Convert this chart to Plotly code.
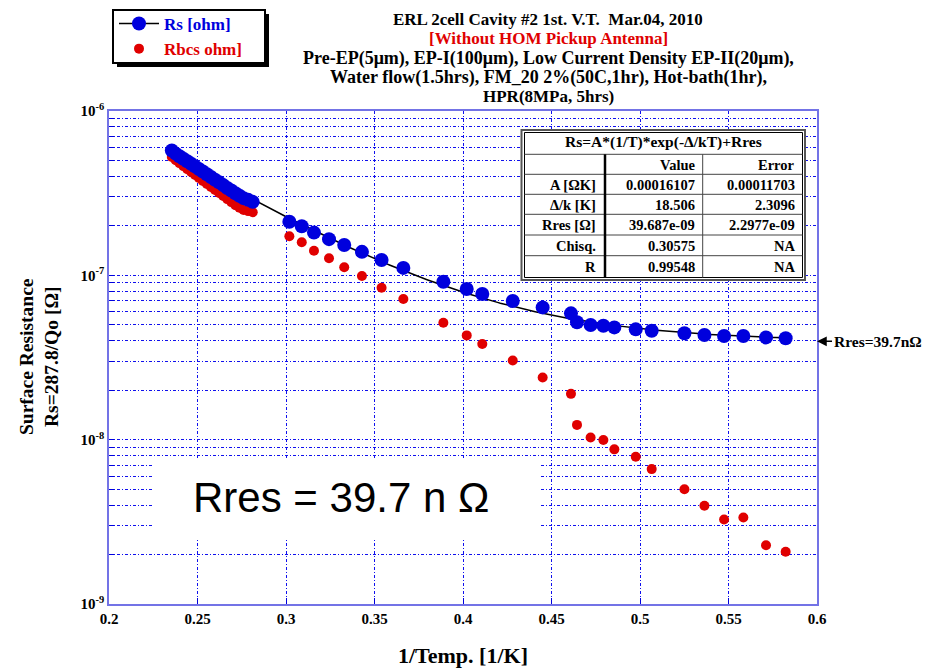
import numpy as np
import plotly.graph_objects as go

# ---------------- data ----------------
inv_T = [0.2355, 0.2377, 0.2398, 0.2420, 0.2442, 0.2464, 0.2486, 0.2508, 0.2530, 0.2553,
         0.2576, 0.2599, 0.2622, 0.2645, 0.2668, 0.2691, 0.2714, 0.2737, 0.2760, 0.2786,
         0.2812,
         0.3019, 0.3089, 0.3158, 0.3243, 0.3329, 0.3429, 0.3540, 0.3663, 0.3889, 0.4021,
         0.4109, 0.4281, 0.4450, 0.4610, 0.4644, 0.4721, 0.4793, 0.4855, 0.4976, 0.5066,
         0.5251, 0.5364, 0.5475, 0.5584, 0.5712, 0.5823]

rs_ohm = [5.75e-7, 5.50e-7, 5.30e-7, 5.12e-7, 4.95e-7, 4.78e-7, 4.60e-7, 4.44e-7, 4.28e-7, 4.12e-7,
          3.97e-7, 3.82e-7, 3.68e-7, 3.54e-7, 3.40e-7, 3.28e-7, 3.16e-7, 3.05e-7, 2.95e-7, 2.88e-7,
          2.80e-7,
          2.12e-7, 1.99e-7, 1.82e-7, 1.66e-7, 1.53e-7, 1.39e-7, 1.24e-7, 1.11e-7, 9.14e-8, 8.25e-8,
          7.70e-8, 6.98e-8, 6.38e-8, 5.87e-8, 5.18e-8, 4.99e-8, 4.93e-8, 4.82e-8, 4.69e-8, 4.60e-8,
          4.44e-8, 4.33e-8, 4.27e-8, 4.27e-8, 4.19e-8, 4.14e-8]

rbcs_ohm = [5.25e-7, 5.02e-7, 4.82e-7, 4.62e-7, 4.43e-7, 4.25e-7, 4.08e-7, 3.91e-7, 3.75e-7, 3.60e-7,
            3.45e-7, 3.31e-7, 3.17e-7, 3.04e-7, 2.91e-7, 2.79e-7, 2.67e-7, 2.58e-7, 2.50e-7, 2.46e-7,
            2.42e-7,
            1.73e-7, 1.59e-7, 1.41e-7, 1.27e-7, 1.12e-7, 9.9e-8, 8.41e-8, 7.18e-8, 5.15e-8, 4.31e-8,
            3.82e-8, 3.03e-8, 2.39e-8, 1.90e-8, 1.23e-8, 1.03e-8, 9.95e-9, 8.73e-9, 7.87e-9, 6.62e-9,
            4.99e-9, 3.96e-9, 3.27e-9, 3.36e-9, 2.28e-9, 2.08e-9]

# fit parameters (from the table in the chart)
fit_A = 0.00016107
fit_delta_k = 18.506
fit_Rres = 39.687e-09

table_labels = ["A [ΩK]", "Δ/k [K]", "Rres [Ω]", "Chisq.", "R"]
table_values = ["0.00016107", "18.506", "39.687e-09", "0.30575", "0.99548"]
table_errors = ["0.00011703", "2.3096", "2.2977e-09", "NA", "NA"]

x_ticks = [0.2, 0.25, 0.3, 0.35, 0.4, 0.45, 0.5, 0.55, 0.6]
y_decades = [-9, -8, -7, -6]

# ---------------- figure ----------------
L, R, T, B = 109, 817, 111, 604


def px(x):
    return (x - L) / (R - L)


def py(y):
    return (B - y) / (B - T)


BLUE = "#0000dd"
RED = "#e00000"
SERIF = "Liberation Serif"

fig = go.Figure()

# fit curve
xf = np.linspace(min(inv_T), max(inv_T), 300)
yf = fit_A * xf * np.exp(-fit_delta_k * xf) + fit_Rres
fig.add_trace(go.Scatter(x=xf, y=yf, mode="lines", line=dict(color="black", width=1.5),
                         showlegend=False, hoverinfo="skip"))

fig.add_trace(go.Scatter(x=inv_T, y=rbcs_ohm, mode="markers",
                         marker=dict(color=RED, size=10, line=dict(width=0)),
                         showlegend=False))
fig.add_trace(go.Scatter(x=inv_T, y=rs_ohm, mode="markers",
                         marker=dict(color=BLUE, size=14, line=dict(width=0)),
                         showlegend=False))

# legend-only entries
fig.add_trace(go.Scatter(x=[None], y=[None], mode="lines+markers",
                         line=dict(color="black", width=1.5),
                         marker=dict(color=BLUE, size=14),
                         name="<span style='color:%s'>Rs [ohm]</span>" % BLUE))
fig.add_trace(go.Scatter(x=[None], y=[None], mode="markers",
                         marker=dict(color=RED, size=10),
                         name="<span style='color:%s'>Rbcs ohm]</span>" % RED))

# y ticks: decades labelled, minor multiples gridded
y_tickvals, y_ticktext = [], []
for d in y_decades:
    for m in range(1, 10):
        if d == -6 and m > 1:
            break
        y_tickvals.append(m * 10.0 ** d)
        y_ticktext.append("10<sup>%d</sup>" % d if m == 1 else "")

grid_col = "#1010ee"
frame_col = "#7373e6"

fig.update_xaxes(range=[0.2, 0.6], tickvals=x_ticks, ticktext=[("%g" % v) for v in x_ticks],
                 showgrid=True, gridcolor=grid_col, griddash="3px,2px,1px,2px", gridwidth=1,
                 showline=True, linecolor=frame_col, linewidth=1.5, mirror=True,
                 ticks="inside", tickcolor=BLUE, ticklen=6, zeroline=False, automargin=False,
                 tickfont=dict(family=SERIF, size=15, color="black", weight="bold"))
fig.update_yaxes(type="log", range=[-9, -6], tickmode="array", tickvals=y_tickvals,
                 ticktext=y_ticktext,
                 showgrid=True, gridcolor=grid_col, griddash="3px,2px,1px,2px", gridwidth=1,
                 showline=True, linecolor=frame_col, linewidth=1.5, mirror=True,
                 ticks="inside", tickcolor=BLUE, ticklen=5, zeroline=False, automargin=False,
                 tickfont=dict(family=SERIF, size=15, color="black", weight="bold"))

shapes = []
annotations = []


def note(x, y, text, font, xanchor="center", yanchor="middle", height=None, angle=0):
    a = dict(xref="paper", yref="paper", x=px(x), y=py(y), text=text,
             showarrow=False, xanchor=xanchor, yanchor=yanchor, font=font, textangle=angle)
    if height is not None:
        a["height"] = height
    annotations.append(a)


# axis titles
note(463, 655, "1/Temp. [1/K]", dict(family=SERIF, size=22, color="black", weight="bold"))
note(39, 357, "Surface Resistance<br>Rs=287.8/Qo [Ω]",
     dict(family=SERIF, size=19.5, color="black", weight="bold"), angle=-90)

# white box behind the Rres text
shapes.append(dict(type="rect", xref="paper", yref="paper", x0=px(152), x1=px(541),
                   y0=py(540), y1=py(459), fillcolor="white", line=dict(width=0),
                   layer="above"))
note(341, 497, "Rres = 39.7 n Ω", dict(family="Liberation Sans", size=42, color="black"))

# fit table
shapes.append(dict(type="rect", xref="paper", yref="paper", x0=px(521.5), x1=px(805),
                   y0=py(280), y1=py(130), fillcolor="white",
                   line=dict(color="#555555", width=2), layer="above"))
shapes.append(dict(type="rect", xref="paper", yref="paper", x0=px(524.5), x1=px(802.5),
                   y0=py(277.5), y1=py(132.5), fillcolor="white",
                   line=dict(color="black", width=1), layer="above"))
row_lines = [154.3, 174.3, 194.3, 214.3, 235, 255.7]
for yl in row_lines:
    shapes.append(dict(type="line", xref="paper", yref="paper", x0=px(524.5), x1=px(802.5),
                       y0=py(yl), y1=py(yl), line=dict(color="#444444", width=1),
                       layer="above"))
shapes.append(dict(type="line", xref="paper", yref="paper", x0=px(605), x1=px(605),
                   y0=py(154.3), y1=py(277.5), line=dict(color="black", width=2.5),
                   layer="above"))
shapes.append(dict(type="line", xref="paper", yref="paper", x0=px(702.7), x1=px(702.7),
                   y0=py(154.3), y1=py(277.5), line=dict(color="#444444", width=1),
                   layer="above"))

tfont = dict(family=SERIF, size=14.5, color="black", weight="bold")
note(663, 142.5, "Rs=A*(1/T)*exp(-Δ/kT)+Rres", dict(family=SERIF, size=15.5, color="black",
                                                      weight="bold"))
note(697, 164.5, "Value", tfont, xanchor="right")
note(797, 164.5, "Error", tfont, xanchor="right")
row_centers = [184.5, 204.5, 224.8, 245.5, 266.5]
for lab, val, err, yc in zip(table_labels, table_values, table_errors, row_centers):
    note(598, yc, lab, tfont, xanchor="right")
    note(697, yc, val, tfont, xanchor="right")
    note(797, yc, err, tfont, xanchor="right")

# Rres marker on right edge
annotations.append(dict(xref="paper", yref="y", x=1.0, y=np.log10(fit_Rres),
                        text="Rres=39.7nΩ", showarrow=True, arrowhead=2, arrowsize=1.3,
                        arrowwidth=1.5, arrowcolor="black", ax=15, ay=0, xanchor="left",
                        yanchor="middle",
                        font=dict(family=SERIF, size=15.5, color="black", weight="bold")))

# title block
title_lines = [
    ("ERL 2cell Cavity #2 1st. V.T.  Mar.04, 2010", "black", 19, 17),
    ("[Without HOM Pickup Antenna]", RED, 39, 17),
    ("Pre-EP(5μm), EP-I(100μm), Low Current Density EP-II(20μm),", "black", 58, 18),
    ("Water flow(1.5hrs), FM_20 2%(50C,1hr), Hot-bath(1hr),", "black", 77, 18),
    ("HPR(8MPa, 5hrs)", "black", 96, 17),
]
for txt, col, yc, fs in title_lines:
    note(548, yc, txt, dict(family=SERIF, size=fs, color=col, weight="bold"), height=19)

# legend box with shadow
shapes.append(dict(type="rect", xref="paper", yref="paper", x0=px(117), x1=px(269),
                   y0=py(67), y1=py(14), fillcolor="black", line=dict(width=0), layer="above"))
shapes.append(dict(type="rect", xref="paper", yref="paper", x0=px(113), x1=px(265),
                   y0=py(63), y1=py(10), fillcolor="white", line=dict(color="black", width=2),
                   layer="above"))

fig.update_layout(
    width=927, height=671, autosize=False,
    margin=dict(l=L, r=927 - R, t=T, b=671 - B, autoexpand=False),
    paper_bgcolor="white", plot_bgcolor="white",
    font=dict(family=SERIF),
    shapes=shapes, annotations=annotations,
    legend=dict(x=px(114), y=py(6), xanchor="left", yanchor="top",
                bgcolor="rgba(0,0,0,0)", borderwidth=0,
                font=dict(family=SERIF, size=17, weight="bold"),
                itemwidth=40, tracegroupgap=0),
    showlegend=True,
)

fig.write_html("out.html")
